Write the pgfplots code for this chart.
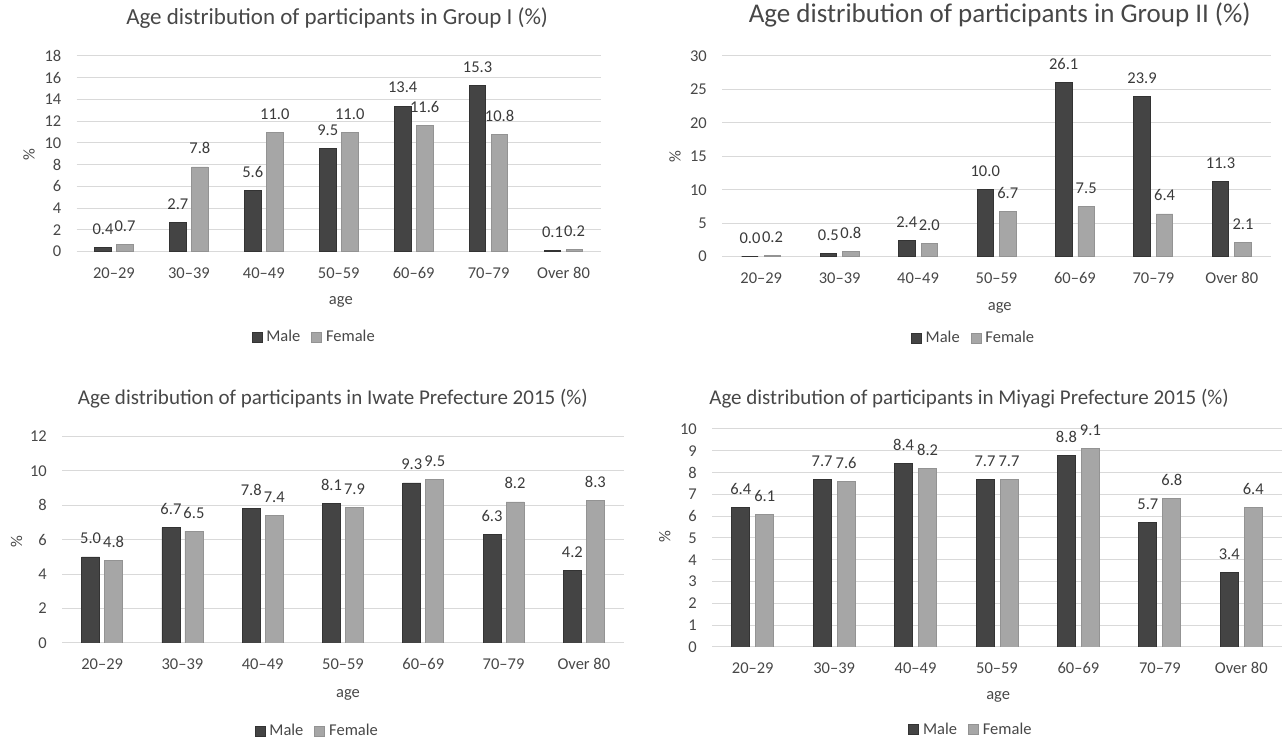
\documentclass[border=0pt]{standalone}
\usepackage{fontspec}
\setmainfont{Carlito}
\usepackage{pgfplots}
\pgfplotsset{compat=1.18}

\definecolor{maleC}{HTML}{444444}
\definecolor{maleE}{HTML}{333333}
\definecolor{femaleC}{HTML}{A6A6A6}
\definecolor{femaleE}{HTML}{939393}
\definecolor{gridC}{HTML}{D9D9D9}
\definecolor{txtC}{HTML}{474747}
\definecolor{lblC}{HTML}{3A3A3A}

\newcommand\fs{\fontsize{16.5}{19}\selectfont}

\pgfplotsset{
  agechart/.style={
    scale only axis,
    ybar=#1,
    xmin=-0.5, xmax=6.5, ymin=0,
    xtick={0,...,6},
    xticklabels={20–29,30–39,40–49,50–59,60–69,70–79,Over 80},
    axis line style={draw=none},
    major tick length=0pt,
    ymajorgrids,
    major grid style={draw=gridC, line width=1pt},
    /pgf/number format/assume math mode=true,
    tick label style={font=\fs, text=txtC, inner sep=0pt},
    xticklabel style={anchor=center, yshift=-21.3pt},
    yticklabel style={anchor=east, xshift=-15pt},
    label style={font=\fs, text=txtC},
    every axis title shift=0pt,
    xlabel={age}, ylabel={\%},
    nodes near coords={\pgfmathprintnumber[fixed,fixed zerofill,precision=1]{\pgfplotspointmeta}},
    every node near coord/.append style={font=\fs, text=lblC, anchor=south, inner sep=0pt, yshift=12.5pt},
    legend columns=2,
    legend image code/.code={\fill[##1] (0pt,-5pt) rectangle (10pt,5pt);},
    legend style={draw=none, fill=none, font=\fs, text=txtC, anchor=center,
      inner sep=0pt, nodes={inner xsep=4pt, inner ysep=2pt},
      /tikz/every even column/.append style={column sep=7pt}},
  },
  male/.style={fill=maleC, draw=maleE, line width=0.75pt},
  female/.style={fill=femaleC, draw=femaleE, line width=0.75pt},
}

\begin{document}
\begin{tikzpicture}
\useasboundingbox (0,0) rectangle (1282pt,743pt);

% Group I
\begin{axis}[agechart=5.5pt, bar width=16.5pt,
  at={(76.5pt,491.3pt)}, anchor=south west, width=524.5pt, height=195.7pt,
  ymax=18, ytick distance=2,
  title={Age distribution of participants in Group I (\%)},
  title style={at={(axis description cs:0.497,1.194)}, anchor=center, font=\fontsize{23}{27}\selectfont, text=txtC},
  xlabel style={at={(axis description cs:0.504,-0.257)}, anchor=center},
  ylabel style={at={(axis description cs:-0.0906,0.494)}, anchor=center},
  legend style={at={(axis description cs:0.455,-0.436)}},
]
\addplot[male] coordinates {(0,0.4) (1,2.7) (2,5.6) (3,9.5) (4,13.4) (5,15.3) (6,0.1)};
\addplot[female] coordinates {(0,0.7) (1,7.8) (2,11.0) (3,11.0) (4,11.6) (5,10.8) (6,0.2)};
\legend{Male,Female}
\end{axis}

% Group II
\begin{axis}[agechart=6pt, bar width=16.5pt,
  at={(722pt,486.3pt)}, anchor=south west, width=549pt, height=200.7pt,
  ymax=30, ytick distance=5,
  title={Age distribution of participants in Group II (\%)},
  title style={at={(axis description cs:0.506,1.206)}, anchor=center, font=\fontsize{27}{31}\selectfont, text=txtC},
  xlabel style={at={(axis description cs:0.506,-0.256)}, anchor=center},
  ylabel style={at={(axis description cs:-0.0856,0.497)}, anchor=center},
  legend style={at={(axis description cs:0.46,-0.405)}},
]
\addplot[male] coordinates {(0,0.0) (1,0.5) (2,2.4) (3,10.0) (4,26.1) (5,23.9) (6,11.3)};
\addplot[female] coordinates {(0,0.2) (1,0.8) (2,2.0) (3,6.7) (4,7.5) (5,6.4) (6,2.1)};
\legend{Male,Female}
\end{axis}

% Iwate Prefecture 2015
\begin{axis}[agechart=5pt, bar width=18pt,
  at={(62pt,100pt)}, anchor=south west, width=562pt, height=206.5pt,
  ymax=12, ytick distance=2,
  title={Age distribution of participants in Iwate Prefecture 2015 (\%)},
  title style={at={(axis description cs:0.482,1.182)}, anchor=center, font=\fontsize{21}{25}\selectfont, text=txtC},
  xlabel style={at={(axis description cs:0.509,-0.252)}, anchor=center},
  ylabel style={at={(axis description cs:-0.081,0.49)}, anchor=center},
  legend style={at={(axis description cs:0.456,-0.426)}},
]
\addplot[male] coordinates {(0,5.0) (1,6.7) (2,7.8) (3,8.1) (4,9.3) (5,6.3) (6,4.2)};
\addplot[female] coordinates {(0,4.8) (1,6.5) (2,7.4) (3,7.9) (4,9.5) (5,8.2) (6,8.3)};
\legend{Male,Female}
\end{axis}

% Miyagi Prefecture 2015
\begin{axis}[agechart=6pt, bar width=18pt,
  at={(712pt,96pt)}, anchor=south west, width=570pt, height=218pt,
  ymax=10, ytick distance=1,
  title={Age distribution of participants in Miyagi Prefecture 2015 (\%)},
  title style={at={(axis description cs:0.451,1.138)}, anchor=center, font=\fontsize{21}{25}\selectfont, text=txtC},
  xlabel style={at={(axis description cs:0.502,-0.229)}, anchor=center},
  ylabel style={at={(axis description cs:-0.083,0.506)}, anchor=center},
  legend style={at={(axis description cs:0.456,-0.378)}},
]
\addplot[male] coordinates {(0,6.4) (1,7.7) (2,8.4) (3,7.7) (4,8.8) (5,5.7) (6,3.4)};
\addplot[female] coordinates {(0,6.1) (1,7.6) (2,8.2) (3,7.7) (4,9.1) (5,6.8) (6,6.4)};
\legend{Male,Female}
\end{axis}
\end{tikzpicture}
\end{document}
